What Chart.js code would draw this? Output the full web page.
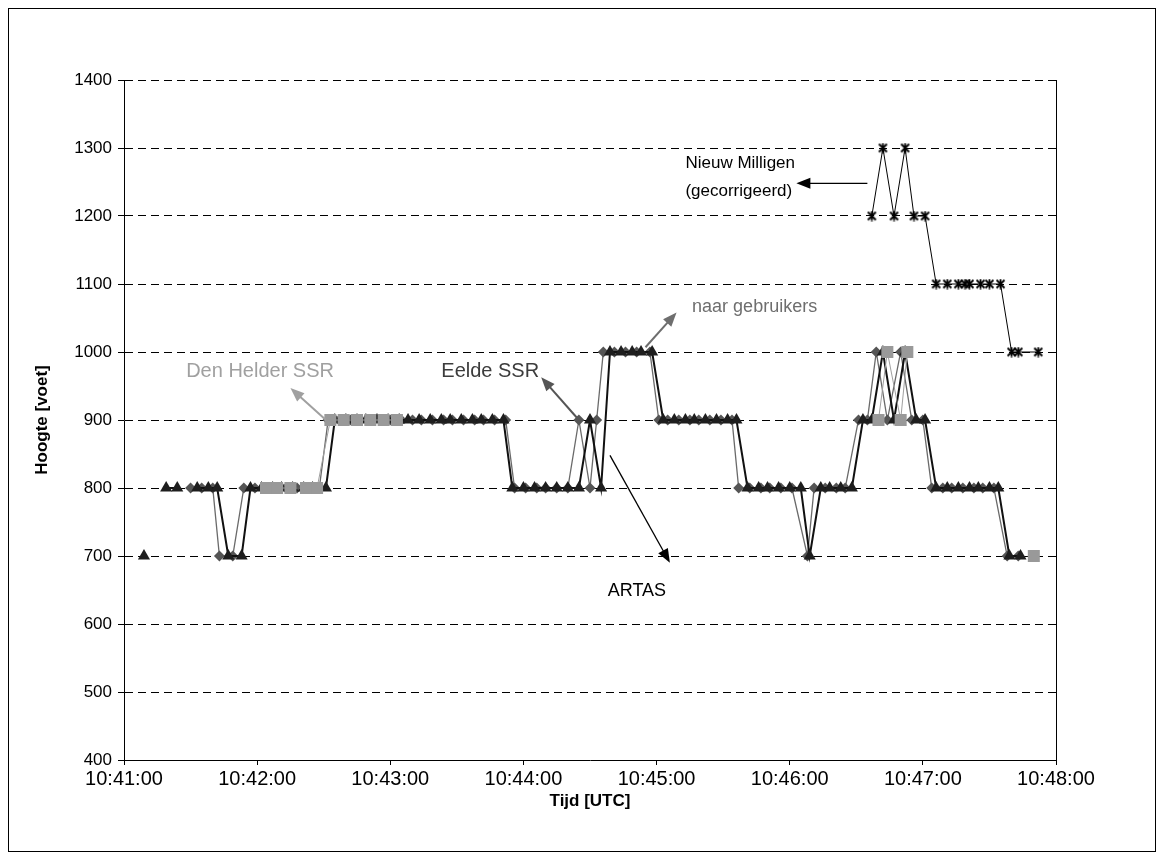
<!DOCTYPE html>
<html><head><meta charset="utf-8">
<script src="https://cdn.jsdelivr.net/npm/chart.js@4.4.1/dist/chart.umd.min.js"></script>
<style>
html,body{margin:0;padding:0;background:#fff;}
#wrap{width:1164px;height:860px;position:relative;}
</style></head><body>
<div id="wrap"><canvas id="c" width="1164" height="860"></canvas></div>
<script>
// ---------- DATA ----------
const xTickLabels = ['10:41:00','10:42:00','10:43:00','10:44:00','10:45:00','10:46:00','10:47:00','10:48:00'];
const yMin = 400, yMax = 1400, yStep = 100;

const artasTimes = ['10:41:09','10:41:14','10:41:19','10:41:24','10:41:28','10:41:33','10:41:38','10:41:42','10:41:47','10:41:53','10:41:57',
 '10:42:02','10:42:07','10:42:11','10:42:16','10:42:21','10:42:25','10:42:31',
 '10:42:35','10:42:40','10:42:45','10:42:49','10:42:54','10:42:59','10:43:04','10:43:08','10:43:13','10:43:18','10:43:23','10:43:27','10:43:32','10:43:37','10:43:41','10:43:46','10:43:51',
 '10:43:55','10:44:00','10:44:05','10:44:10','10:44:15','10:44:20','10:44:25','10:44:30','10:44:35',
 '10:44:39','10:44:44','10:44:49','10:44:53','10:44:58',
 '10:45:03','10:45:08','10:45:13','10:45:17','10:45:22','10:45:27','10:45:32','10:45:36',
 '10:45:41','10:45:46','10:45:50','10:45:55','10:46:00','10:46:05','10:46:09',
 '10:46:14','10:46:18','10:46:23','10:46:28','10:46:33','10:46:37','10:46:42','10:46:47','10:46:52','10:46:57','10:47:01',
 '10:47:06','10:47:11','10:47:16','10:47:21','10:47:25','10:47:30','10:47:34','10:47:39','10:47:44'];
const artasValues = [700,null,800,800,null,800,800,800,700,700,800,
 800,800,800,800,800,800,800,
 900,900,900,900,900,900,900,900,900,900,900,900,900,900,900,900,900,
 800,800,800,800,800,800,800,900,800,
 1000,1000,1000,1000,1000,
 900,900,900,900,900,900,900,900,
 800,800,800,800,800,800,700,
 800,800,800,800,900,900,1000,900,1000,900,900,
 800,800,800,800,800,800,800,700,700];

const eeldeTimes = ['10:41:30','10:41:35','10:41:40','10:41:43','10:41:49','10:41:54','10:41:59',
 '10:42:04','10:42:09','10:42:13','10:42:18','10:42:23','10:42:28',
 '10:42:32','10:42:37','10:42:42','10:42:46','10:42:51','10:42:56','10:43:00','10:43:05','10:43:10','10:43:14','10:43:19','10:43:24','10:43:28','10:43:33','10:43:38','10:43:42','10:43:47','10:43:52',
 '10:43:56','10:44:01','10:44:06','10:44:10','10:44:15','10:44:20','10:44:25','10:44:30','10:44:33',
 '10:44:36','10:44:41','10:44:46','10:44:51','10:44:57',
 '10:45:01','10:45:05','10:45:10','10:45:15','10:45:19','10:45:24','10:45:29','10:45:34',
 '10:45:37','10:45:42','10:45:47','10:45:51','10:45:56','10:46:01','10:46:08',
 '10:46:11','10:46:16','10:46:21','10:46:25','10:46:31','10:46:35','10:46:39','10:46:44','10:46:50','10:46:55','10:47:00',
 '10:47:04','10:47:09','10:47:13','10:47:18','10:47:23','10:47:27','10:47:32','10:47:38','10:47:43'];
const eeldeValues = [800,800,800,700,700,800,800,
 800,800,800,800,800,800,
 900,900,900,900,900,900,900,900,900,900,900,900,900,900,900,900,900,900,
 800,800,800,800,800,800,900,800,900,
 1000,1000,1000,1000,1000,
 900,900,900,900,900,900,900,900,
 800,800,800,800,800,800,700,
 800,800,800,800,900,900,1000,900,1000,900,900,
 800,800,800,800,800,800,800,700,700];

const denHelderTimes = ['10:42:04','10:42:09','10:42:15','10:42:22','10:42:27',
 '10:42:33','10:42:39','10:42:45','10:42:51','10:42:57','10:43:03','10:43:10',
 '10:46:40','10:46:44','10:46:50','10:46:53','10:47:10','10:47:50'];
const denHelderValues = [800,800,800,800,800,
 900,900,900,900,900,900,null,
 900,1000,900,1000,null,700];

const milligenTimes = ['10:46:37','10:46:42','10:46:47','10:46:52','10:46:56','10:47:01',
 '10:47:06','10:47:11','10:47:16','10:47:19','10:47:21','10:47:26','10:47:30','10:47:35',
 '10:47:40','10:47:43','10:47:52'];
const milligenValues = [1200,1300,1200,1300,1200,1200,
 1100,1100,1100,1100,1100,1100,1100,1100,
 1000,1000,1000];

// annotation texts (anchored in data coordinates)
const noteTexts = [['Nieuw Milligen','(gecorrigeerd)'], ['naar gebruikers'], ['Den Helder SSR'], ['Eelde SSR'], ['ARTAS']];
const noteTimes = ['10:45:13','10:45:16','10:41:28','10:43:23','10:44:38'];
const noteLevels = [[1278,1237],[1066],[972],[972],[648]];
const noteColors = ['#000000','#6e6e6e','#a0a0a0','#3c3c3c','#000000'];
const noteSizes = [17, 18, 20, 20, 18];
const arrowFrom = [['10:46:35',1248],['10:44:55',1007],['10:42:31',900],['10:44:25',900],['10:44:39',848]];
const arrowTo   = [['10:46:03',1248],['10:45:09',1058],['10:42:15',947],['10:44:08',963],['10:45:06',690]];
const arrowColors = ['#000000','#6e6e6e','#a0a0a0','#555555','#000000'];

// ---------- HELPERS ----------
function toSec(t){ const p = t.split(':').map(Number); return p[0]*3600 + p[1]*60 + p[2]; }
function pts(times, vals){ return times.map((t,i)=>({x: toSec(t), y: vals[i]})); }
const xMin = toSec(xTickLabels[0]), xMax = toSec(xTickLabels[xTickLabels.length-1]);

function asterisk(){
  const c = document.createElement('canvas'); c.width = 11; c.height = 11;
  const g = c.getContext('2d');
  g.strokeStyle = '#000'; g.lineWidth = 1.8;
  g.beginPath();
  g.moveTo(1.5,1.5); g.lineTo(9.5,9.5);
  g.moveTo(9.5,1.5); g.lineTo(1.5,9.5);
  g.moveTo(5.5,0.5); g.lineTo(5.5,10.5);
  g.stroke();
  return c;
}

const FONT = "'Liberation Sans', Arial, sans-serif";

const annotPlugin = {
  id: 'annot',
  beforeDraw(chart){
    const ctx = chart.ctx;
    ctx.save();
    ctx.fillStyle = '#fff'; ctx.fillRect(0,0,chart.width,chart.height);
    ctx.strokeStyle = '#000'; ctx.lineWidth = 1;
    ctx.strokeRect(8.5, 8.5, 1147, 843);
    ctx.restore();
  },
  afterDraw(chart){
    const ctx = chart.ctx, xs = chart.scales.x, ys = chart.scales.y, a = chart.chartArea;
    ctx.save();
    ctx.strokeStyle = '#000'; ctx.lineWidth = 1;
    ctx.beginPath(); ctx.moveTo(Math.round(a.right)+0.5, a.top); ctx.lineTo(Math.round(a.right)+0.5, a.bottom); ctx.stroke();
    arrowFrom.forEach((f,i)=>{
      const x1 = xs.getPixelForValue(toSec(f[0])), y1 = ys.getPixelForValue(f[1]);
      const x2 = xs.getPixelForValue(toSec(arrowTo[i][0])), y2 = ys.getPixelForValue(arrowTo[i][1]);
      const ang = Math.atan2(y2-y1, x2-x1), L = 14, W = 5.5;
      ctx.strokeStyle = arrowColors[i]; ctx.fillStyle = arrowColors[i];
      ctx.lineWidth = (i===0||i===4) ? 1.3 : 2;
      ctx.beginPath(); ctx.moveTo(x1,y1);
      ctx.lineTo(x2 - Math.cos(ang)*L*0.8, y2 - Math.sin(ang)*L*0.8); ctx.stroke();
      ctx.beginPath();
      ctx.moveTo(x2,y2);
      ctx.lineTo(x2 - Math.cos(ang)*L - Math.sin(ang)*W, y2 - Math.sin(ang)*L + Math.cos(ang)*W);
      ctx.lineTo(x2 - Math.cos(ang)*L + Math.sin(ang)*W, y2 - Math.sin(ang)*L - Math.cos(ang)*W);
      ctx.closePath(); ctx.fill();
    });
    ctx.textAlign = 'left'; ctx.textBaseline = 'middle';
    noteTexts.forEach((lines,i)=>{
      ctx.fillStyle = noteColors[i];
      ctx.font = noteSizes[i] + 'px ' + FONT;
      const x = xs.getPixelForValue(toSec(noteTimes[i]));
      lines.forEach((s,j)=> ctx.fillText(s, x, ys.getPixelForValue(noteLevels[i][j])));
    });
    ctx.restore();
  }
};

const chart = new Chart(document.getElementById('c'), {
  type: 'line',
  data: {
    datasets: [
      { label: 'Den Helder SSR', data: pts(denHelderTimes, denHelderValues), order: 0,
        borderColor: '#a0a0a0', borderWidth: 1, backgroundColor: '#999999',
        pointStyle: 'rect', pointRadius: 8.5, pointBorderWidth: 0, pointBackgroundColor: '#999999' },
      { label: 'ARTAS', data: pts(artasTimes, artasValues), order: 1,
        borderColor: '#111111', borderWidth: 2, backgroundColor: '#1e1e1e',
        pointStyle: 'triangle', pointRadius: 7, pointBorderWidth: 0, pointBackgroundColor: '#1e1e1e' },
      { label: 'Eelde SSR', data: pts(eeldeTimes, eeldeValues), order: 2,
        borderColor: '#6a6a6a', borderWidth: 1.3, backgroundColor: '#555555',
        pointStyle: 'rectRot', pointRadius: 5.5, pointBorderWidth: 0, pointBackgroundColor: '#555555' },
      { label: 'Nieuw Milligen (gecorrigeerd)', data: pts(milligenTimes, milligenValues), order: 3,
        borderColor: '#000000', borderWidth: 1, backgroundColor: '#000',
        pointStyle: asterisk(), pointRadius: 5 }
    ]
  },
  options: {
    responsive: false, animation: false, devicePixelRatio: 1,
    spanGaps: false,
    layout: { padding: { left: 30, top: 80, right: 108, bottom: 48 } },
    plugins: { legend: { display: false }, tooltip: { enabled: false } },
    elements: { line: { tension: 0 } },
    scales: {
      x: {
        type: 'linear', min: xMin, max: xMax,
        afterFit(s){ s.height = 52; },
        afterBuildTicks(s){ s.ticks = xTickLabels.map(t=>({value: toSec(t)})); },
        ticks: { autoSkip: false, maxRotation: 0, color: '#000', font: { family: FONT, size: 20 }, padding: 2,
          callback: (v) => xTickLabels[Math.round((v - xMin)/60)] },
        grid: { display: true, drawOnChartArea: false, drawTicks: true, tickLength: 5, color: '#000' },
        border: { display: true, color: '#000', width: 1 },
        title: { display: true, text: 'Tijd [UTC]', color: '#000', font: { family: FONT, size: 17, weight: 'bold' }, padding: { top: 4, bottom: 0 } }
      },
      y: {
        min: yMin, max: yMax,
        afterFit(s){ s.width = 94; },
        ticks: { stepSize: yStep, color: '#000', font: { family: FONT, size: 17 }, padding: 6,
          callback: (v) => String(v) },
        grid: { color: '#000', lineWidth: 1, drawTicks: true, tickLength: 6 },
        border: { display: true, color: '#000', width: 1, dash: [8,5] },
        title: { display: true, text: 'Hoogte [voet]', color: '#000', font: { family: FONT, size: 17, weight: 'bold' }, padding: { top: 2, bottom: 4 } }
      }
    }
  },
  plugins: [annotPlugin]
});
</script>
</body></html>
